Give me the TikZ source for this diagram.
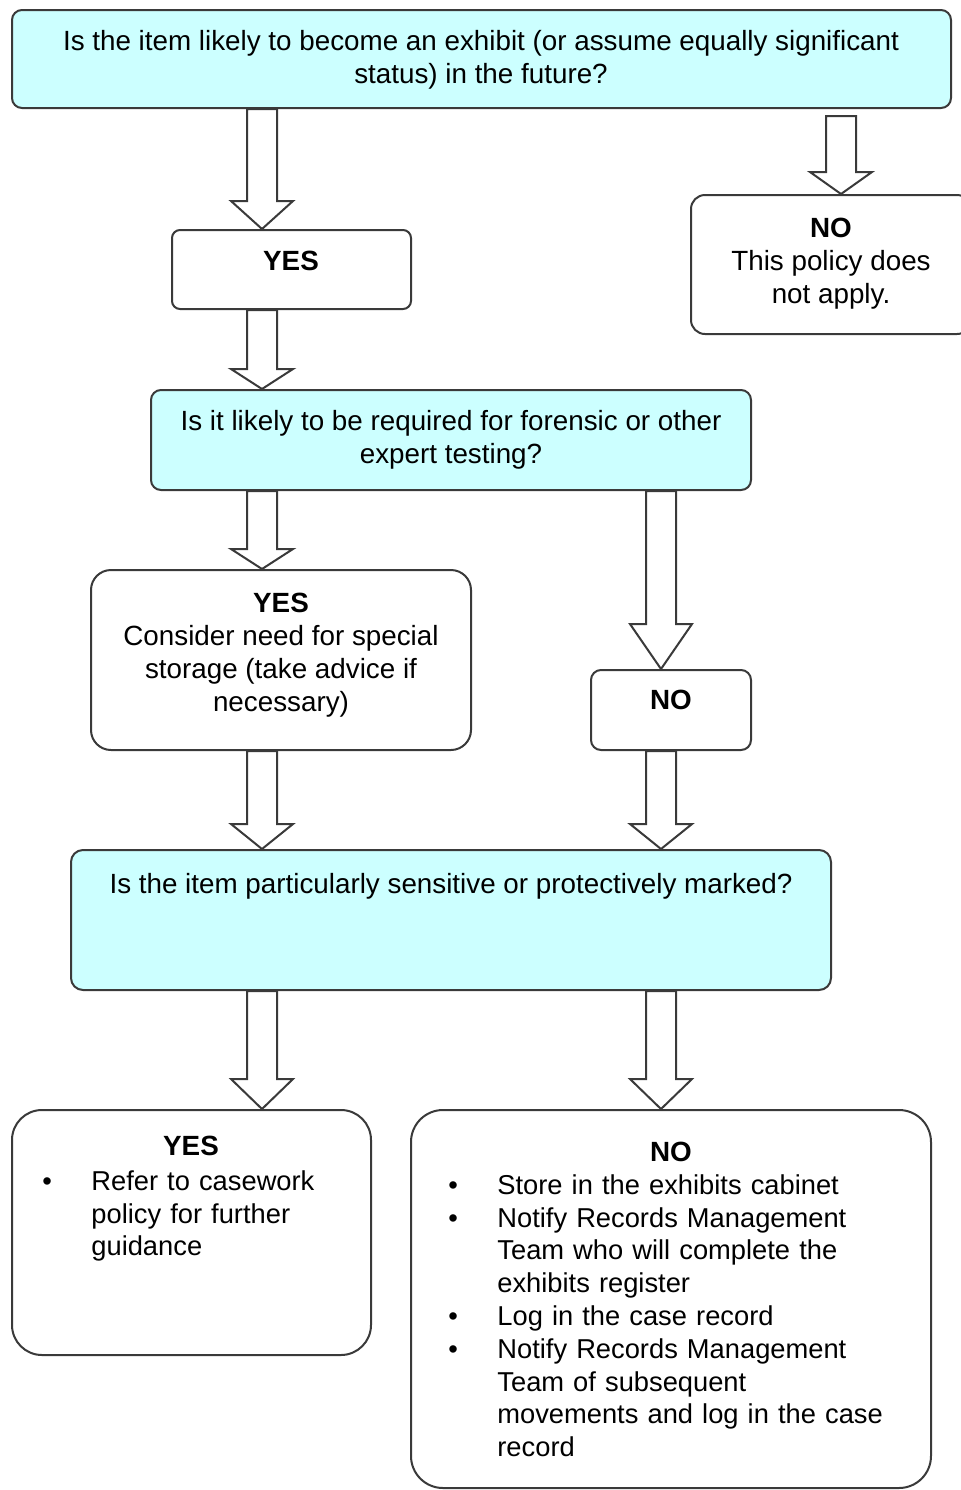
\documentclass[tikz,border=0pt]{standalone}
\usepackage{fontspec}
\setmainfont{Liberation Sans}
\usetikzlibrary{calc,positioning}
\definecolor{AskCyan}{HTML}{CCFFFF}
\definecolor{LineGray}{HTML}{3A3A3A}

\newcommand{\flowfont}{\fontsize{13.9}{16.4}\selectfont}
\newcommand{\listfont}{\fontsize{13.65}{16.4}\selectfont}

% bullet list for the two outcome boxes
\newenvironment{dotlist}{\begin{list}{\textbullet}{%
  \setlength\leftmargin{24.5pt}\setlength\labelwidth{24.5pt}\setlength\labelsep{0pt}%
  \setlength\itemsep{0pt}\setlength\parsep{0pt}\setlength\topsep{0pt}\setlength\partopsep{0pt}%
  \renewcommand\makelabel[1]{##1\hfil}}}{\end{list}}

% hollow block arrow: [head length]{x in px}{from}{to}
\newcommand{\blockarrow}[4][12pt]{%
  \draw[hollow] let \p1=(#3), \p2=(#4) in
    (#2*0.5pt-7.5pt,\y1) -- (#2*0.5pt-7.5pt,\y2+#1) -- (#2*0.5pt-15.5pt,\y2+#1)
    -- (#2*0.5pt,\y2) -- (#2*0.5pt+15.5pt,\y2+#1) -- (#2*0.5pt+7.5pt,\y2+#1)
    -- (#2*0.5pt+7.5pt,\y1) -- cycle;}

\begin{document}
\begin{tikzpicture}[
    x=0.5pt, y=-0.5pt,
    flowbox/.style={rectangle, draw=LineGray, line width=1pt, fill=white, inner sep=0pt},
    askbox/.style={flowbox, fill=AskCyan},
    txt/.style={font=\flowfont, align=center, inner sep=0pt, anchor=north},
    listtxt/.style={font=\listfont, align=left, inner sep=0pt, anchor=north west},
    hollow/.style={draw=LineGray, line width=1pt, fill=white, line join=miter}
  ]
  \useasboundingbox (0,0) rectangle (961,1490);

  % Questions
  \node[askbox, rounded corners=5pt, minimum width=469.5pt, minimum height=49pt] (q1) at (481.5,59) {};
  \node[askbox, rounded corners=5pt, minimum width=300pt, minimum height=50pt] (q2) at (451,440) {};
  \node[askbox, rounded corners=6pt, minimum width=380pt, minimum height=70pt] (q3) at (451,920) {};

  % Answers
  \node[flowbox, rounded corners=4pt, minimum width=119.5pt, minimum height=39.5pt] (yes1) at (291.5,269.5) {};
  \node[flowbox, rounded corners=7pt, minimum width=140pt, minimum height=69.5pt] (no1) at (831,264.5) {};
  \node[flowbox, rounded corners=10pt, minimum width=190pt, minimum height=90pt] (yes2) at (281,660) {};
  \node[flowbox, rounded corners=5pt, minimum width=80pt, minimum height=40pt] (no2) at (671,710) {};
  \node[flowbox, rounded corners=15pt, minimum width=179.5pt, minimum height=122.5pt] (yes3) at (191.5,1232.5) {};
  \node[flowbox, rounded corners=16pt, minimum width=260pt, minimum height=189pt] (no3) at (671,1299) {};

  % Texts
  \node[txt] (q1txt) at (481,30) {Is the item likely to become an exhibit (or assume equally significant\\status) in the future?};
  \node[txt] (q2txt) at (451,410) {Is it likely to be required for forensic or other\\expert testing?};
  \node[txt] (q3txt) at (451,873) {Is the item particularly sensitive or protectively marked?};
  \node[txt] (yes1txt) at (291,251) {\textbf{YES}};
  \node[txt] (no1txt) at (831,218) {\textbf{NO}\\This policy does\\not apply.};
  \node[txt] (yes2txt) at (281,593) {\textbf{YES}\\Consider need for special\\storage (take advice if\\necessary)};
  \node[txt] (no2txt) at (671,690) {\textbf{NO}};
  \node[txt] (yes3txt) at (191,1136) {\textbf{YES}};
  \node[txt] (no3txt) at (671,1142) {\textbf{NO}};

  \node[listtxt, text width=159pt] (yes3list) at (42,1157) {%
    \begin{dotlist}
      \item Refer to casework\\policy for further\\guidance
    \end{dotlist}};
  \node[listtxt, text width=236pt] (no3list) at (448,1161) {%
    \begin{dotlist}
      \item Store in the exhibits cabinet
      \item Notify Records Management\\Team who will complete the\\exhibits register
      \item Log in the case record
      \item Notify Records Management\\Team of subsequent\\movements and log in the case\\record
    \end{dotlist}};

  % Arrows
  \blockarrow[14pt]{262}{q1.south}{yes1.north}
  \blockarrow[10pt]{262}{yes1.south}{q2.north}
  \blockarrow[11pt]{841}{$(q1.south)+(0,7)$}{no1.north}
  \blockarrow[10pt]{262}{q2.south}{yes2.north}
  \blockarrow[22.5pt]{661}{q2.south}{no2.north}
  \blockarrow[12.5pt]{262}{yes2.south}{q3.north}
  \blockarrow[12.5pt]{661}{no2.south}{q3.north}
  \blockarrow[15pt]{262}{q3.south}{yes3.north}
  \blockarrow[15pt]{661}{q3.south}{no3.north}
\end{tikzpicture}
\end{document}
